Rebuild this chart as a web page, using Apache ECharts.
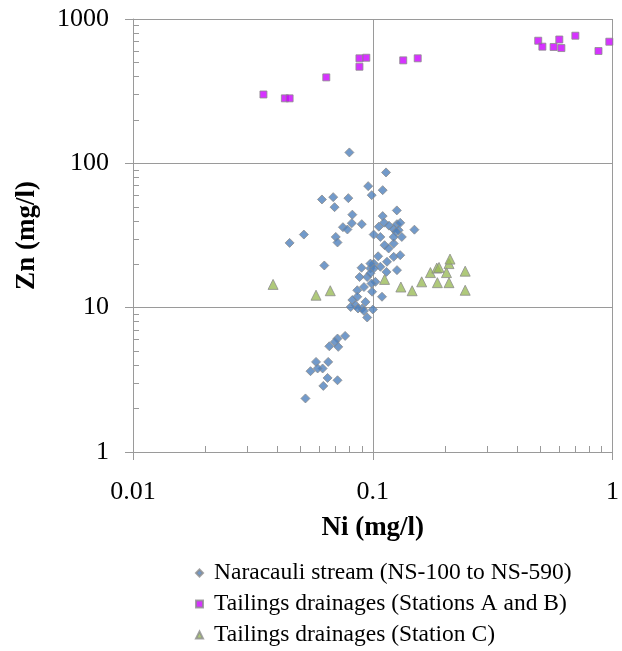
<!DOCTYPE html>
<html>
<head>
<meta charset="utf-8">
<script src="https://cdn.jsdelivr.net/npm/echarts@6/dist/echarts.min.js"></script>
<style>
  html, body { margin: 0; padding: 0; background: #fff; }
  #chart { width: 622px; height: 651px; }
</style>
</head>
<body>
<div id="chart"></div>
<script>
// Naracauli stream samples (NS-100 to NS-590)
const streamNi = [0.0799, 0.1136, 0.0957, 0.110, 0.099, 0.0614, 0.0684, 0.0791, 0.0693, 0.0822,
  0.110, 0.126, 0.0818, 0.0751, 0.0784, 0.090, 0.0516, 0.045, 0.0701, 0.0713,
  0.0628, 0.1009, 0.106, 0.1115, 0.1169, 0.1223, 0.1076, 0.112, 0.1165, 0.1223,
  0.1223, 0.1053, 0.101, 0.1076, 0.1141, 0.0898, 0.0978, 0.0881, 0.0948, 0.1492,
  0.1262, 0.1302, 0.1282, 0.1322, 0.1253, 0.1302, 0.1147, 0.101, 0.1262, 0.0978,
  0.1026, 0.0862, 0.0919, 0.0994, 0.1093, 0.0862, 0.0822, 0.0848, 0.0904, 0.0948,
  0.0933, 0.0809, 0.0988, 0.1001, 0.0767, 0.0713, 0.0695, 0.0659, 0.0718, 0.058,
  0.0652, 0.0618, 0.055, 0.0648, 0.0713, 0.0622, 0.0524, 0.0589, 0.1223, 0.0978,
  0.0868, 0.0919];
const streamZn = [119, 86.5, 69.5, 65.2, 60.2, 56.2, 58.3, 57.4, 49.7, 44.1,
  43.1, 47.2, 38.5, 36.1, 34.8, 37.9, 32.1, 28.1, 30.9, 28.3,
  19.6, 32.1, 36.4, 38.8, 37.0, 35.0, 30.9, 27.1, 25.7, 27.8,
  22.5, 22.7, 20.2, 19.2, 17.7, 18.9, 18.7, 16.3, 16.3, 34.7,
  37.9, 38.7, 34.4, 30.9, 33.5, 23.1, 20.8, 18.7, 18.2, 17.3,
  15.1, 13.2, 13.9, 12.9, 11.9, 11.9, 11.3, 10.4, 9.87, 8.55,
  10.96, 10.1, 14.7, 9.71, 6.37, 6.11, 5.79, 5.40, 5.35, 4.21,
  4.21, 3.79, 3.63, 3.26, 3.14, 2.87, 2.35, 3.79, 30.9, 20.2,
  9.87, 9.5];

// Tailings drainages, stations A and B
const tailingsAbNi = [0.035, 0.043, 0.045, 0.064, 0.088, 0.094, 0.088, 0.134, 0.154,
  0.49, 0.51, 0.568, 0.60, 0.612, 0.70, 0.874, 0.97];
const tailingsAbZn = [300, 282, 282, 394, 534, 539, 467, 517, 534,
  707, 643, 640, 721, 629, 766, 600, 696];

// Tailings drainages, station C
const tailingsCNi = [0.0384, 0.058, 0.0665, 0.112, 0.131, 0.146, 0.160, 0.174, 0.185,
  0.189, 0.186, 0.203, 0.208, 0.210, 0.208, 0.243, 0.243];
const tailingsCZn = [14.5, 12.2, 13.1, 15.7, 13.9, 13.1, 15.1, 17.5, 18.8,
  19.0, 14.9, 17.5, 20.2, 21.7, 14.9, 17.9, 13.2];

const seriesNames = [
  'Naracauli stream (NS-100 to NS-590)',
  'Tailings drainages (Stations A and B)',
  'Tailings drainages (Station C)'
];

const zip = (xs, ys) => xs.map((x, i) => [x, ys[i]]);

const serif = 'Liberation Serif, Times New Roman, serif';
const gridGray = '#9a9a9a';
const plainNumber = v => String(v);

// Main decade axis: line, outward major ticks, labels, grid lines
function mainAxis(min, max, name, extra) {
  return Object.assign({
    type: 'log',
    logBase: 10,
    min: min,
    max: max,
    name: name,
    nameLocation: 'middle',
    nameTextStyle: { fontFamily: serif, fontSize: 27, fontWeight: 'bold', color: '#000' },
    axisLine: { show: true, lineStyle: { color: gridGray, width: 1 } },
    axisTick: { show: true, inside: false, length: 8, lineStyle: { color: gridGray } },
    minorTick: { show: false },
    splitLine: { show: true, lineStyle: { color: gridGray, width: 1 } },
    axisLabel: { fontFamily: serif, fontSize: 26, color: '#000', formatter: plainNumber }
  }, extra);
}

// Companion axis carrying only the inward minor ticks (2..9 within each decade)
function minorTickAxis(min, max, position) {
  return {
    type: 'log',
    logBase: 10,
    min: min,
    max: max,
    position: position,
    offset: 0,
    axisLine: { show: false },
    axisTick: { show: false, inside: true },
    minorTick: { show: true, splitNumber: 9, length: 6, lineStyle: { color: gridGray } },
    splitLine: { show: false },
    axisLabel: { show: false }
  };
}

const chart = echarts.init(document.getElementById('chart'), null, { renderer: 'canvas' });

chart.setOption({
  animation: false,
  backgroundColor: '#fff',
  grid: { left: 133, right: 4, top: 19, bottom: 199, containLabel: false },
  xAxis: [
    mainAxis(0.01, 1, 'Ni (mg/l)', {
      position: 'bottom',
      nameGap: 63,
      axisLabel: { fontFamily: serif, fontSize: 26, color: '#000', margin: 27, formatter: plainNumber }
    }),
    minorTickAxis(0.01, 1, 'bottom')
  ],
  yAxis: [
    mainAxis(1, 1000, 'Zn (mg/l)', {
      position: 'left',
      nameGap: 92,
      nameRotate: 90,
      axisLabel: { fontFamily: serif, fontSize: 26, color: '#000', margin: 24, formatter: plainNumber }
    }),
    minorTickAxis(1, 1000, 'left')
  ],
  legend: {
    orient: 'vertical',
    left: 195,
    top: 561,
    padding: 0,
    itemWidth: 7,
    itemHeight: 7,
    itemGap: 7,
    textStyle: { fontFamily: serif, fontSize: 23.5, lineHeight: 23, color: '#000', padding: [0, 0, 0, 6] },
    data: seriesNames
  },
  series: [
    {
      name: seriesNames[0],
      type: 'scatter',
      symbol: 'diamond',
      symbolSize: 9,
      itemStyle: { color: '#4F81BD', borderColor: '#8c8c8c', borderWidth: 1 },
      data: zip(streamNi, streamZn)
    },
    {
      name: seriesNames[1],
      type: 'scatter',
      symbol: 'rect',
      symbolSize: 7,
      itemStyle: { color: '#CC00FF', borderColor: '#8c8c8c', borderWidth: 1 },
      data: zip(tailingsAbNi, tailingsAbZn)
    },
    {
      name: seriesNames[2],
      type: 'scatter',
      symbol: 'triangle',
      symbolSize: 10,
      itemStyle: { color: '#9BBB59', borderColor: '#8c8c8c', borderWidth: 1 },
      data: zip(tailingsCNi, tailingsCZn)
    }
  ]
});
</script>
</body>
</html>
